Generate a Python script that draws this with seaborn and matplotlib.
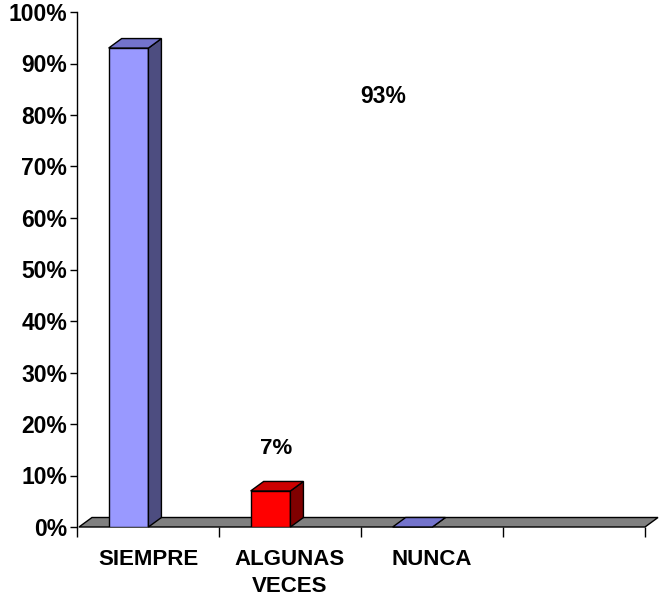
import matplotlib
matplotlib.use("Agg")
import matplotlib.pyplot as plt
import numpy as np
import pandas as pd
import seaborn as sns
from matplotlib.patches import Polygon

# Survey answers and their shares
categorias = ["SIEMPRE", "ALGUNAS\nVECES", "NUNCA"]
porcentajes = [0.93, 0.07, 0.0]
etiquetas_y = ["0%", "10%", "20%", "30%", "40%", "50%", "60%", "70%", "80%", "90%", "100%"]

# Face colours for the pseudo-3D bars (front, top, side)
colores_frente = ["#9999FF", "#FF0000", "#9999FF"]
colores_tapa = ["#7373CC", "#CC0000", "#7373CC"]
colores_lado = ["#4D4D80", "#800000", "#4D4D80"]

sns.set_theme(style="white")
plt.rcParams["font.family"] = ["Liberation Sans", "DejaVu Sans"]
plt.rcParams["font.weight"] = "bold"
plt.rcParams["text.color"] = "black"
plt.rcParams["xtick.color"] = "black"
plt.rcParams["ytick.color"] = "black"

W, H = 660, 607
fig = plt.figure(figsize=(W / 100, H / 100), dpi=100)
ax = fig.add_axes([77 / W, 80 / H, 568 / W, 515 / H])

df = pd.DataFrame({"respuesta": categorias, "valor": porcentajes})
sns.barplot(data=df, x="respuesta", y="valor", hue="respuesta",
            palette=colores_frente, legend=False, width=0.28,
            saturation=1, edgecolor="black", linewidth=1, ax=ax, zorder=3)

ax.set_xlim(-0.5, 3.5)
ax.set_ylim(0, 1)

# depth of the 3D effect, in pixels converted to data units
px_x = ax.bbox.width / 4.0
px_y = ax.bbox.height / 1.0
dx = 13 / px_x
dy = 9.5 / px_y
shift = -0.137

# floor
piso = Polygon([(-0.5 + 0.014, 0), (3.5, 0), (3.5 + dx, dy), (-0.5 + 0.014 + dx, dy)],
               closed=True, facecolor="#808080", edgecolor="black",
               linewidth=1, clip_on=False, zorder=1)
ax.add_patch(piso)

for p, tapa, lado in zip(ax.patches[:len(categorias)], colores_tapa, colores_lado):
    p.set_x(p.get_x() + shift)
    x0 = p.get_x()
    x1 = x0 + p.get_width()
    h = p.get_height()
    top = Polygon([(x0, h), (x1, h), (x1 + dx, h + dy), (x0 + dx, h + dy)],
                  closed=True, facecolor=tapa, edgecolor="black",
                  linewidth=1, clip_on=False, zorder=3)
    side = Polygon([(x1, 0), (x1 + dx, dy), (x1 + dx, h + dy), (x1, h)],
                   closed=True, facecolor=lado, edgecolor="black",
                   linewidth=1, clip_on=False, zorder=3)
    ax.add_patch(side)
    ax.add_patch(top)

# value labels
ax.text(1.655, 0.835, f"{porcentajes[0]:.0%}", ha="center", va="center",
        fontsize=16.5, fontweight="bold", color="black")
ax.text(0.90, porcentajes[1] + 0.083, f"{porcentajes[1]:.0%}", ha="center", va="center",
        fontsize=16, fontweight="bold", color="black")

# axes
for s in ["top", "right", "bottom"]:
    ax.spines[s].set_visible(False)
ax.spines["left"].set_color("black")
ax.spines["left"].set_linewidth(1)

ax.set_yticks(np.linspace(0, 1, 11))
ax.set_yticklabels(etiquetas_y, fontsize=16.5, fontweight="bold", color="black")
ax.tick_params(axis="y", left=True, direction="out", length=5, width=1,
               color="black", pad=2)

ax.set_xticks([-0.5, 0.5, 1.5, 2.5, 3.5])
ax.set_xticklabels([""] * 5)
ax.set_xticks([0, 1, 2], minor=True)
ax.set_xticklabels(categorias, minor=True, fontsize=16, fontweight="bold",
                   linespacing=1.35, va="top", color="black")
ax.tick_params(axis="x", which="major", bottom=True, direction="out",
               length=7, width=1, color="black")
ax.tick_params(axis="x", which="minor", bottom=True, length=0, pad=16)

ax.set_xlabel("")
ax.set_ylabel("")

fig.savefig("out.png", dpi=100, facecolor="white")
